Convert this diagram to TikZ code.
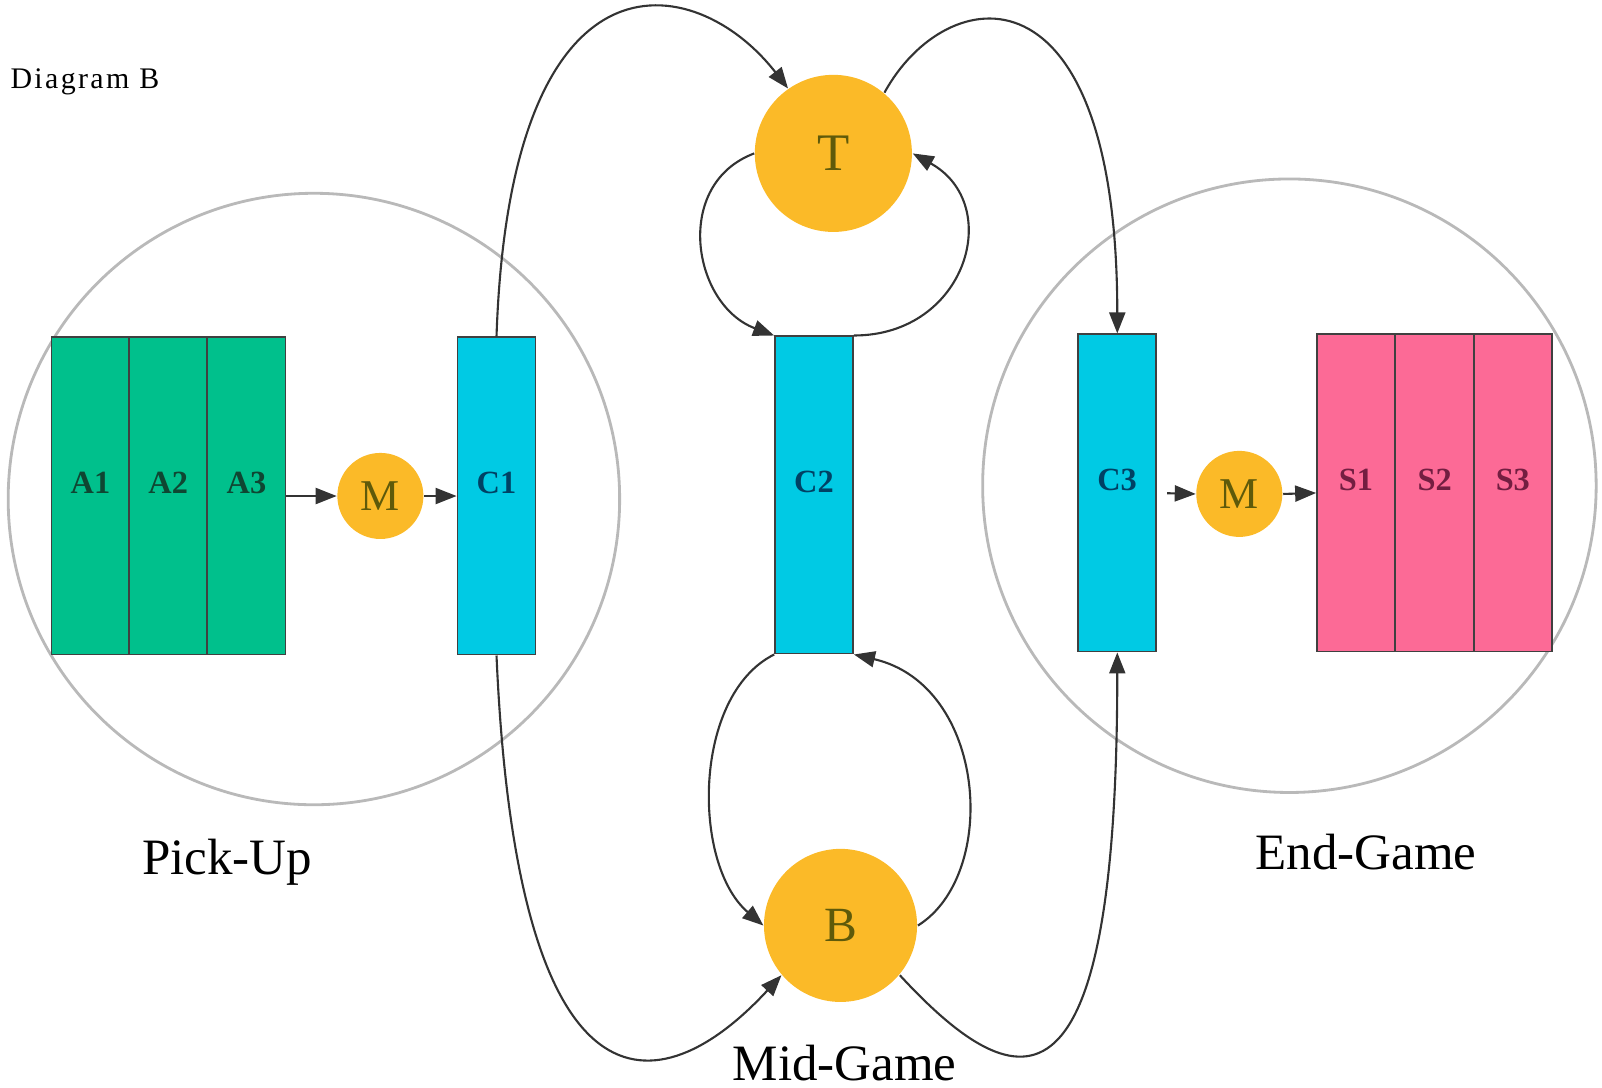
\documentclass[tikz,border=0pt]{standalone}
\usepackage{fontspec}
\setmainfont{Liberation Serif}
\usetikzlibrary{arrows.meta}
\definecolor{PadGreen}{RGB}{0,192,140}
\definecolor{PadCyan}{RGB}{0,202,228}
\definecolor{PadPink}{RGB}{252,106,150}
\definecolor{Amber}{RGB}{251,186,40}
\definecolor{GreenInk}{RGB}{15,70,50}
\definecolor{CyanInk}{RGB}{0,65,100}
\definecolor{PinkInk}{RGB}{115,30,65}
\definecolor{OliveInk}{RGB}{95,90,10}
\tikzset{
  ring/.style={draw=gray!55, line width=0.8pt},
  slot/.style={draw=black!75, line width=0.5pt, minimum width=7.8mm, minimum height=31.7mm,
    inner sep=0pt, text depth=2.65mm, font=\fontsize{9.2}{10}\selectfont\bfseries},
  ball/.style={circle, fill=Amber, inner sep=0pt, text=OliveInk},
  flow/.style={-{Triangle[length=2.1mm,width=1.6mm]}, draw=black!80, line width=0.6pt},
  caption/.style={font=\fontsize{14.5}{16}\selectfont}
}
\begin{document}
\begin{tikzpicture}[x=0.01cm, y=-0.01cm, scale=1.0225]
  \useasboundingbox (0,0) rectangle (1566.7,1063.1);
  % zones
  \draw[ring] (307,488) circle (299);
  \draw[ring] (1261,475) circle (300);
  \node[font=\fontsize{8.5}{9}\selectfont\addfontfeatures{LetterSpace=8}] (title) at (83,80) {Diagram B};
  % pick-up side
  \node[slot, fill=PadGreen, text=GreenInk] (A1) at (88.5,485) {A1};
  \node[slot, fill=PadGreen, text=GreenInk] (A2) at (164.5,485) {A2};
  \node[slot, fill=PadGreen, text=GreenInk] (A3) at (241,485) {A3};
  \node[ball, minimum size=8.6mm, font=\fontsize{12.5}{13}\selectfont] (ML) at (372,485) {M};
  \node[slot, fill=PadCyan, text=CyanInk] (C1) at (485.5,485) {C1};
  % mid-game
  \node[slot, fill=PadCyan, text=CyanInk] (C2) at (796,484) {C2};
  \node[ball, minimum size=15.7mm, font=\fontsize{15}{16}\selectfont] (T) at (815,150) {T};
  \node[ball, minimum size=15.3mm, font=\fontsize{14}{15}\selectfont] (B) at (822,905) {B};
  % end-game side
  \node[slot, fill=PadCyan, text=CyanInk] (C3) at (1092.5,482) {C3};
  \node[ball, minimum size=8.6mm, font=\fontsize{12.5}{13}\selectfont] (MR) at (1212,483) {M};
  \node[slot, fill=PadPink, text=PinkInk] (S1) at (1326,482) {S1};
  \node[slot, fill=PadPink, text=PinkInk] (S2) at (1403,482) {S2};
  \node[slot, fill=PadPink, text=PinkInk] (S3) at (1479.5,482) {S3};
  % captions
  \node[caption] (pickup) at (222,843) {Pick-Up};
  \node[caption] (endgame) at (1336,833) {End-Game};
  \node[caption] (midgame) at (826,1040) {Mid-Game};
  % straight links
  \draw[flow] (A3.east) -- (ML.west);
  \draw[flow] (ML.east) -- (C1.west);
  \draw[flow, shorten <=1mm] (C3.east) -- (MR.west);
  \draw[flow] (MR.east) -- (S1.west);
  % loops
  \draw[flow] (C1.north) .. controls +(13,-390) and +(-91,-117) .. (T.125);
  \draw[flow] (T.50) .. controls +(60,-110) and +(0,-370) .. (C3.north);
  \draw[flow] (T.west) .. controls +(-80,30) and +(-80,-30) .. (C2.north west);
  \draw[flow] (C2.north east) .. controls +(110,0) and +(90,50) .. (T.east);
  \draw[flow] (C2.south west) .. controls +(-80,40) and +(-70,-60) .. (B.west);
  \draw[flow] (B.east) .. controls +(80,-50) and +(130,30) .. (C2.south east);
  \draw[flow] (C1.south) .. controls +(20,460) and +(-120,130) .. (B.220);
  \draw[flow] (B.320) .. controls +(120,130) and +(0,460) .. (C3.south);
\end{tikzpicture}
\end{document}
